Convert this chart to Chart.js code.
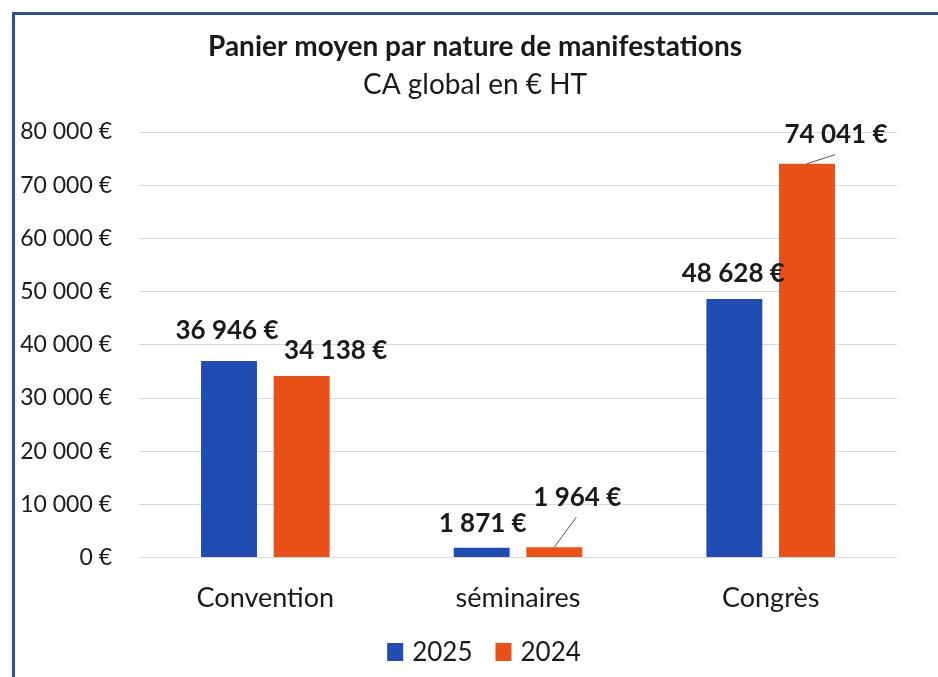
<!DOCTYPE html>
<html>
<head>
<meta charset="utf-8">
<script src="https://cdn.jsdelivr.net/npm/chart.js@4.4.0/dist/chart.umd.min.js"></script>
<style>
  html, body { margin: 0; padding: 0; background: #fff; }
  #frame {
    position: absolute; left: 12px; top: 12px; width: 940px; height: 680px;
    border-left: 3px solid #2c4c9c; border-top: 3px solid #2c4c9c;
  }
  #wrap { position: absolute; left: 0; top: 0; width: 938px; height: 677px; }
</style>
</head>
<body>
<div id="frame"></div>
<div id="wrap"><canvas id="myChart"></canvas></div>
<script>
// values
const categories = ["Convention", "séminaires", "Congrès"];
const years = ["2025", "2024"];
const values2025 = [36946, 1871, 48628];
const values2024 = [34138, 1964, 74041];
const yTicks = [0, 10000, 20000, 30000, 40000, 50000, 60000, 70000, 80000];

const titleText = "Panier moyen par nature de manifestations";
const subtitleText = "CA global en € HT";

// where each value label sits, relative to the top of its bar (px)
const labelShift2025 = [[-2, -30], [1, -24], [-1, -25]];
const labelShift2024 = [[34, -25], [23, -50], [29, -29]];
const leader2024 = [false, true, true];

const colors = ["#1f4db3", "#ea5119"];
const fontFamily = "Lato, 'Open Sans', sans-serif";
const textColor = "#1a1a1a";

function euro(v) {
    return v.toString().replace(/\B(?=(\d{3})+(?!\d))/g, " ") + " €";
}

// value labels above the bars, with small leader lines where Excel moved them
const valueLabels = {
    id: "valueLabels",
    afterDatasetsDraw(chart) {
        const c = chart.ctx;
        c.save();
        c.font = "bold 26px " + fontFamily;
        c.fillStyle = textColor;
        c.textAlign = "center";
        c.textBaseline = "middle";
        chart.data.datasets.forEach((ds, di) => {
            const meta = chart.getDatasetMeta(di);
            const shifts = di === 0 ? labelShift2025 : labelShift2024;
            meta.data.forEach((bar, i) => {
                const lx = bar.x + shifts[i][0];
                const ly = bar.y + shifts[i][1];
                if (di === 1 && leader2024[i]) {
                    c.beginPath();
                    c.strokeStyle = "#555";
                    c.lineWidth = 1;
                    c.moveTo(bar.x, bar.y);
                    c.lineTo(lx - 1, ly + 20);
                    c.stroke();
                }
                c.fillText(euro(ds.data[i]), lx, ly);
            });
        });
        c.restore();
    }
};

// title block and legend are drawn by hand so they can sit off-centre like the original
const headerAndLegend = {
    id: "headerAndLegend",
    afterDraw(chart) {
        const c = chart.ctx;
        const cx = 475;
        c.save();
        c.fillStyle = textColor;
        c.textAlign = "center";
        c.textBaseline = "middle";
        c.font = "bold 28px " + fontFamily;
        c.fillText(titleText, cx, 47);
        c.font = "28px " + fontFamily;
        c.fillText(subtitleText, cx, 85);

        // legend
        c.font = "26px " + fontFamily;
        const box = 16, gapText = 9, gapItem = 23;
        const items = chart.data.datasets.map((ds) => ({
            text: ds.label, color: ds.backgroundColor, w: c.measureText(ds.label).width
        }));
        let total = 0;
        items.forEach((it, i) => {
            total += box + gapText + it.w + (i < items.length - 1 ? gapItem : 0);
        });
        let x = 484 - total / 2;
        const y = chart.height - 25;
        c.textAlign = "left";
        items.forEach((it) => {
            c.fillStyle = it.color;
            c.fillRect(x, y - 9, box, 18);
            x += box + gapText;
            c.fillStyle = textColor;
            c.fillText(it.text, x, y + 1);
            x += it.w + gapItem;
        });
        c.restore();
    }
};

let ctx = document.getElementById("myChart");
let myChart = new Chart(ctx, {
    type: "bar",
    data: {
        labels: categories,
        datasets: [
            {
                label: years[0],
                data: values2025,
                backgroundColor: colors[0],
                categoryPercentage: 0.575,
                barPercentage: 0.77
            },
            {
                label: years[1],
                data: values2024,
                backgroundColor: colors[1],
                categoryPercentage: 0.575,
                barPercentage: 0.77
            }
        ]
    },
    options: {
        responsive: true,
        maintainAspectRatio: false,
        animation: false,
        layout: {
            padding: { left: 15, right: 41, top: 132, bottom: 47 }
        },
        plugins: {
            title: { display: false },
            subtitle: { display: false },
            legend: { display: false },
            tooltip: { enabled: false }
        },
        scales: {
            x: {
                grid: { display: false },
                border: { display: false },
                ticks: {
                    color: textColor,
                    font: { family: fontFamily, size: 27 },
                    padding: 16
                }
            },
            y: {
                min: 0,
                max: 80000,
                afterBuildTicks: (axis) => {
                    axis.ticks = yTicks.map((v) => ({ value: v }));
                },
                afterFit: (axis) => {
                    axis.width = 124;
                },
                grid: { color: "#d9d9d9", lineWidth: 1, drawTicks: false },
                border: { display: false },
                ticks: {
                    color: textColor,
                    font: { family: fontFamily, size: 23 },
                    padding: 27,
                    callback: (v) => euro(v)
                }
            }
        }
    },
    plugins: [valueLabels, headerAndLegend]
});
</script>
</body>
</html>
